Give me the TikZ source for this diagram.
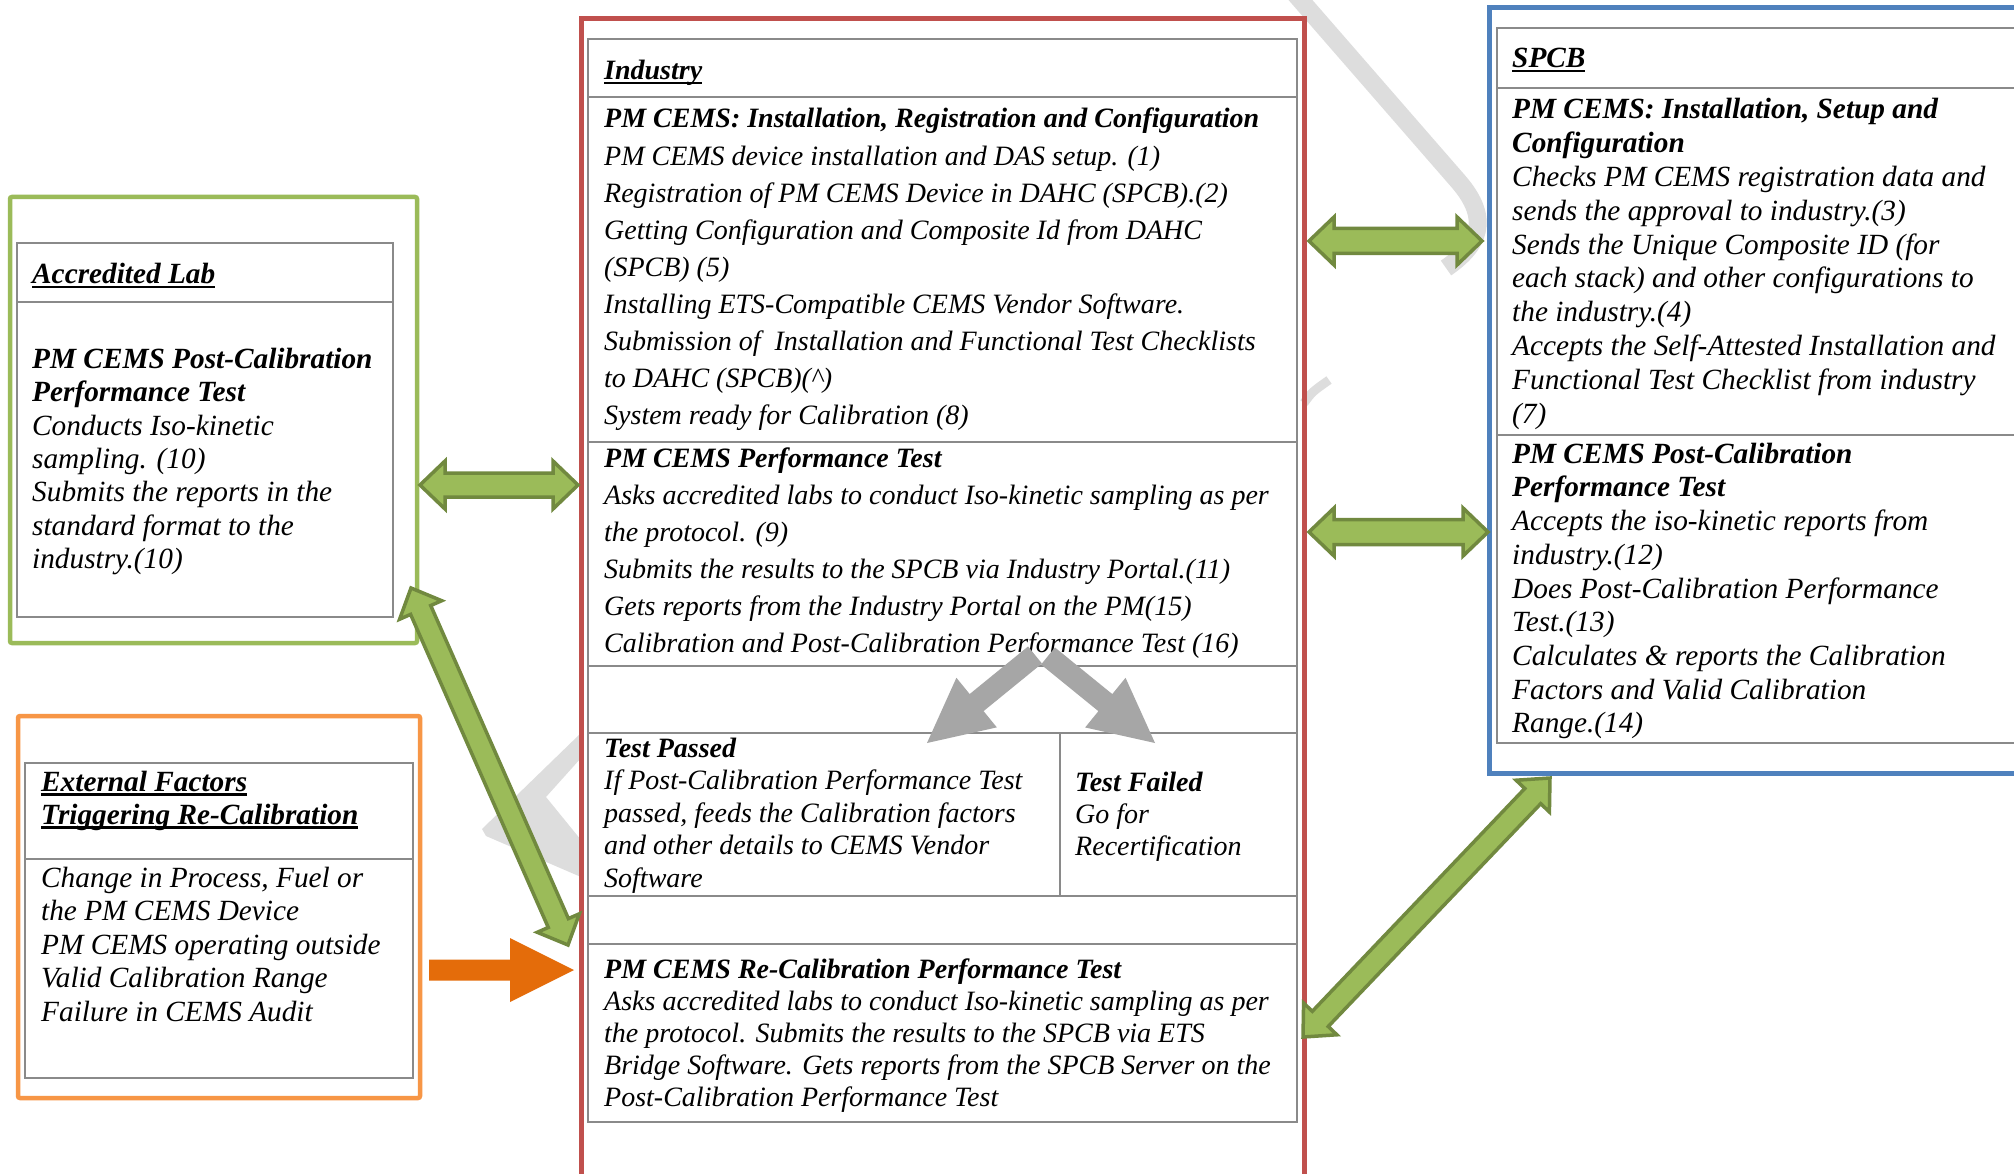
\documentclass[tikz,border=0pt]{standalone}
\usepackage{fontspec}
\setmainfont{Liberation Serif}
\usetikzlibrary{calc}

\definecolor{labgreen}{HTML}{9BBB59}
\definecolor{arrowedge}{HTML}{71893F}
\definecolor{extorange}{HTML}{F79646}
\definecolor{arroworange}{HTML}{E46C0A}
\definecolor{indred}{HTML}{C0504D}
\definecolor{spcbblue}{HTML}{4F81BD}
\definecolor{cellline}{HTML}{8A8A8A}
\definecolor{flowgrey}{HTML}{A6A6A6}
\definecolor{wmgrey}{HTML}{DDDDDD}

% one printed line, and a block of lines whose reference point is the first baseline
\newcommand\rw[1]{\hbox{#1}}
\newcommand\blk[2]{\vtop{\baselineskip=#1pt\lineskiplimit=-100pt\lineskip=0pt #2}}
% underline at a fixed depth below the baseline
\newcommand\ulh[1]{\setbox0=\hbox{#1}\rlap{\rule[-4.5pt]{\wd0}{2.4pt}}\box0}

% block arrow with a head at both ends: style, end A, end B, shaft half width, head half width, head length
\newcommand\dblblock[6]{%
  \coordinate (dbA) at ($(#2)!#6!(#3)$);
  \coordinate (dbB) at ($(#3)!#6!(#2)$);
  \path[#1] (#2) -- ($(dbA)!#5!90:(#3)$) -- ($(dbA)!#4!90:(#3)$) -- ($(dbB)!#4!90:(#3)$)
    -- ($(dbB)!#5!90:(#3)$) -- (#3) -- ($(dbB)!#5!-90:(#3)$) -- ($(dbB)!#4!-90:(#3)$)
    -- ($(dbA)!#4!-90:(#3)$) -- ($(dbA)!#5!-90:(#3)$) -- cycle;}
% block arrow with one head: style, tail, tip, shaft half width, head half width, head length
\newcommand\sglblock[6]{%
  \coordinate (sbA) at ($(#3)!#6!(#2)$);
  \path[#1] ($(#2)!#4!90:(#3)$) -- ($(sbA)!#4!90:(#3)$) -- ($(sbA)!#5!90:(#3)$) -- (#3)
    -- ($(sbA)!#5!-90:(#3)$) -- ($(sbA)!#4!-90:(#3)$) -- ($(#2)!#4!-90:(#3)$) -- cycle;}

\begin{document}
\begin{tikzpicture}[x=1pt,y=-1pt,
  cell/.style={draw=cellline, line width=2.4pt},
  greenarrow/.style={fill=labgreen, draw=arrowedge, line width=3.5pt, line join=miter},
  greyarrow/.style={fill=flowgrey},
  orangearrow/.style={fill=arroworange},
  txt/.style={inner sep=0pt, anchor=base west, align=left},
  big/.style={txt, font=\fontsize{29.3}{33.5}\selectfont\itshape},
  mid/.style={txt, font=\fontsize{28}{33}\selectfont\itshape}]

\useasboundingbox (0,0) rectangle (2014,1174);
\clip (0,0) rectangle (2014,1174);
\fill[white] (0,0) rectangle (2014,1174);

% faint background lettering, only in the gaps between the frames
\fill[wmgrey] (581,733) -- (482,829) -- (486,836) -- (581,877) -- (581,840) -- (546,797) -- (581,758) -- cycle;
\begin{scope}
  \clip (1304,-10) rectangle (1487,400);
  \draw[wmgrey, line width=18pt] (1290,-12) -- (1458,181) .. controls (1492,220) and (1478,246) .. (1446,268);
\end{scope}
\draw[wmgrey, line width=9pt] (1304,403) .. controls (1312,392) .. (1329,380);
\begin{scope}
  \clip (1250,-10) rectangle (1304,30);
  \draw[wmgrey, line width=18pt] (1290,-12) -- (1330,34);
\end{scope}

% Accredited Lab
\draw[labgreen, line width=4.5pt, rounded corners=2pt] (10,197) rectangle (417,643);
\draw[cell] (17,243) rectangle (393,617);
\draw[cell] (17,302) -- (393,302);

% External factors
\draw[extorange, line width=4.5pt, rounded corners=2pt] (18,716) rectangle (420,1098);
\draw[cell] (25,763) rectangle (413,1078);
\draw[cell] (25,859) -- (413,859);

% Industry
\draw[indred, line width=5pt] (581,1200) -- (581,19) -- (1304,19) -- (1304,1200);
\draw[cell] (588,39) rectangle (1297,1122);
\foreach \yy in {97,442,666,733,896,944} \draw[cell] (588,\yy) -- (1297,\yy);
\draw[cell] (1060,733) -- (1060,896);

% SPCB
\draw[spcbblue, line width=5pt] (2040,773) -- (1489,773) -- (1489,8) -- (2040,8);
\draw[cell] (2040,743) -- (1497,743) -- (1497,28) -- (2040,28);
\draw[cell] (1497,88) -- (2040,88);
\draw[cell] (1497,435) -- (2040,435);

% ---- texts ----
\node[big] (labhead) at (32,284) {\bfseries\ulh{Accredited Lab}};
\node[big] (labbody) at (32,368) {\blk{33.5}{%
  \rw{\bfseries PM CEMS Post-Calibration}
  \rw{\bfseries Performance Test}
  \rw{Conducts Iso-kinetic}
  \rw{sampling. (10)}
  \rw{Submits the reports in the}
  \rw{standard format to the}
  \rw{industry.(10)}}};

\node[big] (exthead) at (41,791) {\blk{33}{%
  \rw{\bfseries\ulh{External Factors}}
  \rw{\bfseries\ulh{Triggering Re-Calibration}}}};
\node[big] (extbody) at (41,887) {\blk{33.5}{%
  \rw{Change in Process, Fuel or}
  \rw{the PM CEMS Device}
  \rw{PM CEMS operating outside}
  \rw{Valid Calibration Range}
  \rw{Failure in CEMS Audit}}};

\node[mid] (indhead) at (604,80) {\bfseries\ulh{Industry}};
\node[mid] (indsetup) at (604,128) {\blk{37.1}{%
  \rw{\bfseries PM CEMS: Installation, Registration and Configuration}
  \rw{PM CEMS device installation and DAS setup. (1)}
  \rw{Registration of PM CEMS Device in DAHC (SPCB).(2)}
  \rw{Getting Configuration and Composite Id from DAHC}
  \rw{(SPCB) (5)}
  \rw{Installing ETS-Compatible CEMS Vendor Software.}
  \rw{Submission of~ Installation and Functional Test Checklists}
  \rw{to DAHC (SPCB)(\textasciicircum)}
  \rw{System ready for Calibration (8)}}};
\node[mid] (indperf) at (604,467) {\blk{37}{%
  \rw{\bfseries PM CEMS Performance Test}
  \rw{Asks accredited labs to conduct Iso-kinetic sampling as per}
  \rw{the protocol. (9)}
  \rw{Submits the results to the SPCB via Industry Portal.(11)}
  \rw{Gets reports from the Industry Portal on the PM(15)}
  \rw{Calibration and Post-Calibration Performance Test (16)}}};
\node[mid] (passed) at (604,757) {\blk{32.5}{%
  \rw{\bfseries Test Passed}
  \rw{If Post-Calibration Performance Test}
  \rw{passed, feeds the Calibration factors}
  \rw{and other details to CEMS Vendor}
  \rw{Software}}};
\node[mid] (failed) at (1075,791) {\blk{32}{%
  \rw{\bfseries Test Failed}
  \rw{Go for}
  \rw{Recertification}}};
\node[mid] (recal) at (604,978) {\blk{32}{%
  \rw{\bfseries PM CEMS Re-Calibration Performance Test}
  \rw{Asks accredited labs to conduct Iso-kinetic sampling as per}
  \rw{the protocol. Submits the results to the SPCB via ETS}
  \rw{Bridge Software. Gets reports from the SPCB Server on the}
  \rw{Post-Calibration Performance Test}}};

\node[big] (spcbhead) at (1512,68) {\bfseries\ulh{SPCB}};
\node[big] (spcbsetup) at (1512,119) {\blk{33.8}{%
  \rw{\bfseries PM CEMS: Installation, Setup and}
  \rw{\bfseries Configuration}
  \rw{Checks PM CEMS registration data and}
  \rw{sends the approval to industry.(3)}
  \rw{Sends the Unique Composite ID (for}
  \rw{each stack) and other configurations to}
  \rw{the industry.(4)}
  \rw{Accepts the Self-Attested Installation and}
  \rw{Functional Test Checklist from industry}
  \rw{(7)}}};
\node[big] (spcbperf) at (1512,463) {\blk{33.75}{%
  \rw{\bfseries PM CEMS Post-Calibration}
  \rw{\bfseries Performance Test}
  \rw{Accepts the iso-kinetic reports from}
  \rw{industry.(12)}
  \rw{Does Post-Calibration Performance}
  \rw{Test.(13)}
  \rw{Calculates \& reports the Calibration}
  \rw{Factors and Valid Calibration}
  \rw{Range.(14)}}};

% ---- connectors ----
\coordinate (labR)   at (420,485);
\coordinate (indL)   at (578,485);
\coordinate (indRa)  at (1309,241);
\coordinate (spcbLa) at (1482,241);
\coordinate (indRb)  at (1309,532);
\coordinate (spcbLb) at (1488,532);
\coordinate (labC)   at (411,588);
\coordinate (indLc)  at (568,945);
\coordinate (spcbB)  at (1550,778);
\coordinate (indRc)  at (1303,1037);
\coordinate (extR)   at (429,970);
\coordinate (indLo)  at (574,970);
\coordinate (testL)  at (1035,655);
\coordinate (passT)  at (927,743);
\coordinate (testR)  at (1048,656);
\coordinate (failT)  at (1155,743);

\dblblock{greenarrow}{labR}{indL}{12pt}{24pt}{25pt}
\dblblock{greenarrow}{indRa}{spcbLa}{12.5pt}{24pt}{25pt}
\dblblock{greenarrow}{indRb}{spcbLb}{12.5pt}{24pt}{25pt}
\dblblock{greenarrow}{labC}{indLc}{11pt}{23pt}{24pt}
\dblblock{greenarrow}{spcbB}{indRc}{11pt}{23pt}{25pt}
\sglblock{orangearrow}{extR}{indLo}{10.5pt}{32pt}{64pt}
\sglblock{greyarrow}{testL}{passT}{11pt}{32pt}{64pt}
\sglblock{greyarrow}{testR}{failT}{11pt}{32pt}{64pt}

\end{tikzpicture}
\end{document}
